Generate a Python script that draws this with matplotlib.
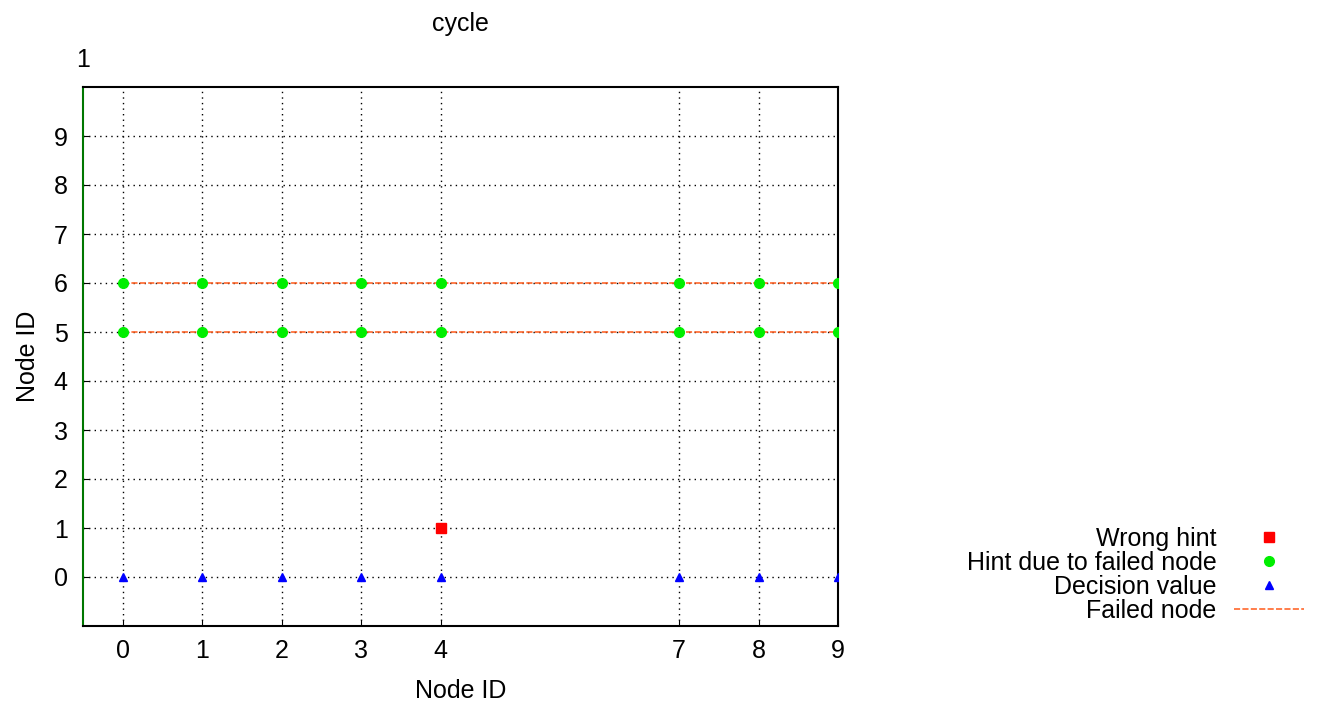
import matplotlib
matplotlib.use('Agg')
import matplotlib.pyplot as plt
import numpy as np

plt.rcParams['font.family'] = ['Liberation Sans', 'DejaVu Sans']

# data
nodes = [0, 1, 2, 3, 4, 7, 8, 9]
decision = [0, 0, 0, 0, 0, 0, 0, 0]
hint_failed = {5: [5] * len(nodes), 6: [6] * len(nodes)}
wrong_x = [4]
wrong_y = [1]
failed_nodes = [5, 6]
failed_span = [0, 9]
xtick_labels = ['0', '1', '2', '3', '4', '7', '8', '9']
ytick_vals = list(range(10))

FS = 18

fig = plt.figure(figsize=(13.18, 7.08), dpi=100)
ax = fig.add_axes([83/1318, 1 - 626/708, (838-83)/1318, (626-87)/708])

for k, f in enumerate(failed_nodes):
    ax.plot(failed_span, [f, f], color='#ff5a1a', linestyle=(0, (4, 1.5)), lw=1.1,
            label='Failed node' if k == 0 else None, zorder=2)
ax.plot(wrong_x, wrong_y, 's', color='red', ms=6.5, ls='none', label='Wrong hint', zorder=3)
for k, f in enumerate(failed_nodes):
    ax.plot(nodes, hint_failed[f], 'o', color='#00ee00', ms=7, ls='none',
            label='Hint due to failed node' if k == 0 else None, zorder=3)
ax.plot(nodes, decision, '^', color='blue', ms=6, ls='none', label='Decision value', zorder=3)

ax.set_xlim(-0.5, 9)
ax.set_ylim(-1, 10)
ax.set_xticks(nodes, xtick_labels)
ax.set_yticks(ytick_vals)
ax.tick_params(labelsize=FS, direction='in', length=4, color='black')
ax.tick_params(axis='x', pad=9)
ax.tick_params(axis='y', pad=11)
ax.grid(True, color='black', linestyle=(0, (1, 3)), lw=1)
for s in ['top', 'bottom', 'right']:
    ax.spines[s].set_linewidth(1.5)
ax.spines['left'].set_color('#007700')
ax.spines['left'].set_linewidth(1.5)
ax.set_xlabel('Node ID', fontsize=FS, labelpad=12)
ax.set_ylabel('Node ID', fontsize=FS, labelpad=10)
ax.set_title('cycle', fontsize=FS, pad=40)
fig.text(83/1318, 1 - 60/708, '1', fontsize=FS, ha='center', va='center')

h, l = ax.get_legend_handles_labels()
order = ['Wrong hint', 'Hint due to failed node', 'Decision value', 'Failed node']
hl = dict(zip(l, h))
fig.legend([hl[o] for o in order], order, loc='center right',
           bbox_to_anchor=(1304/1318, 1 - 575/708), frameon=False, markerfirst=False,
           fontsize=FS, handlelength=2.8, labelspacing=0.0, handletextpad=0.7,
           borderpad=0, borderaxespad=0)

fig.savefig('out.png', dpi=100)
